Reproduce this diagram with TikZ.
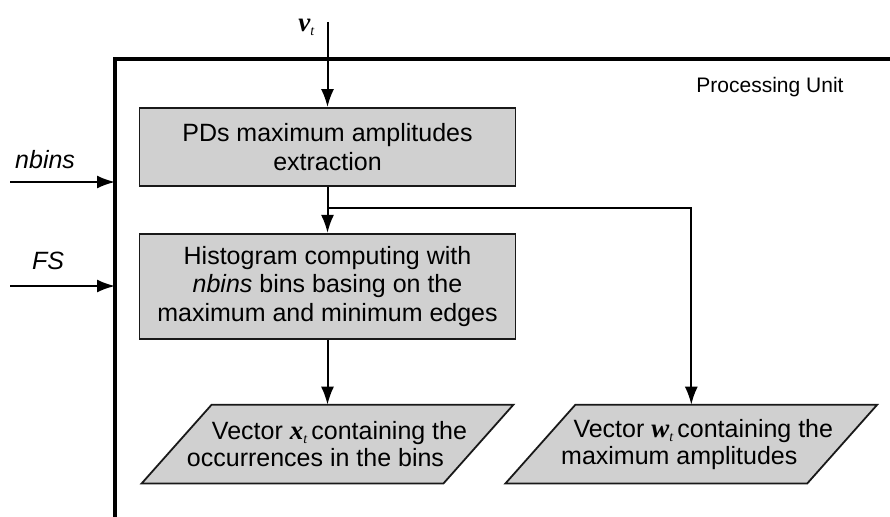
\documentclass[tikz,border=0pt]{standalone}
\usepackage{fontspec}
\setmainfont{Liberation Sans}
\newfontfamily\serf{Liberation Serif}
\usepackage{xcolor}
\usetikzlibrary{calc, shapes, backgrounds, arrows.meta, positioning}

\definecolor{szary}{RGB}{208,208,208}
\definecolor{ramka}{RGB}{25,25,25}
\newcommand{\wektor}[2]{{\fontsize{27}{27}\selectfont\serf\bfseries\itshape #1}\raisebox{-4pt}{\fontsize{14}{14}\selectfont\serf\itshape #2}\,}

\tikzset{
	blok/.style={draw=ramka, line width=1.8pt, fill=szary, align=center,
		font=\fontsize{25}{28.5}\selectfont, minimum width=376pt},
	wynik/.style={align=center, font=\fontsize{25}{27}\selectfont,
		minimum width=300pt, minimum height=77pt, inner sep=0pt, outer sep=0.9pt},
	strzalka/.style={draw, line width=2pt, -{Latex[length=18pt,width=13pt]}},
}

\begin{document}
\begin{tikzpicture}[x=1pt, y=-1pt]
		\useasboundingbox (0,0) rectangle (890,516);
		\node[draw, line width=4pt, anchor=north west, minimum width=850pt, minimum height=520pt,
			inner sep=0pt, outer sep=0pt] (jednostka) at (115,59.5) {};
		\node[font=\fontsize{21}{24}\selectfont] (napis) at (770,87) {Processing Unit};
		\node[blok, minimum height=78pt] (ekstrakcja) at (327.5,147) {PDs maximum amplitudes\\ extraction};
		\node[blok, minimum height=105pt, below= 46pt of ekstrakcja] (histogram) {Histogram computing with\\
			\textit{nbins} bins basing on the\\ maximum and minimum edges};
		\node[wynik, below= 65pt of histogram] (wektorx) {\hspace*{24pt}Vector \wektor{x}{t}containing the\\
			occurrences in the bins\hspace*{24pt}};
		\node[wynik, right= 62pt of wektorx] (wektorw) {\hspace*{24pt}Vector \wektor{w}{t}containing the\\
			maximum amplitudes\hspace*{24pt}};
		% rownolegloboki pod tekstem
		\begin{scope}[on background layer]
			\foreach \w in {wektorx, wektorw}
				\path[draw=ramka, line width=1.8pt, fill=szary] ([xshift=-35pt]\w.south west) -- ([xshift=35pt]\w.north west)
					-- ([xshift=35pt]\w.north east) -- ([xshift=-35pt]\w.south east) -- cycle;
		\end{scope}
		\coordinate (wejsciev) at (327.5,22);
		\node[left= 8pt of wejsciev, yshift=-5pt] (v) {\wektor{v}{t}};
		\coordinate (wejscie1) at (10,182);
		\coordinate (wejscie2) at (10,286);
		\node[anchor=base west, inner sep=0pt, font=\fontsize{25}{28}\selectfont\itshape] (nbins) at (15,168) {nbins};
		\node[anchor=base west, inner sep=0pt, font=\fontsize{25}{28}\selectfont\itshape] (fs) at (32,269) {FS};
		\coordinate (rozgalezienie) at ($(ekstrakcja.south)!0.45!(histogram.north)$);
		\path[strzalka] (wejsciev) -- (ekstrakcja);
		\path[strzalka] (ekstrakcja) -- (histogram);
		\path[strzalka] (histogram) -- (wektorx);
		\path[strzalka] (rozgalezienie) -| (wektorw.north);
		\path[strzalka] (wejscie1) -- (wejscie1 -| jednostka.west);
		\path[strzalka] (wejscie2) -- (wejscie2 -| jednostka.west);
	\end{tikzpicture}
\end{document}
